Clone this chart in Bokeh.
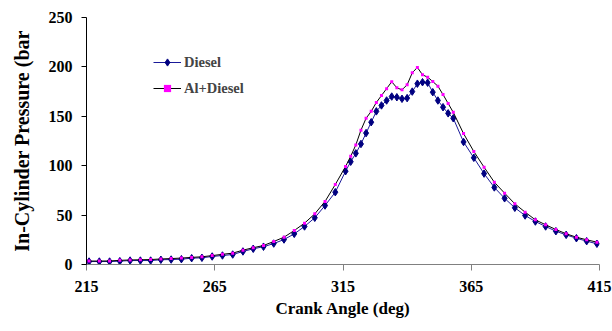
from bokeh.plotting import figure
from bokeh.models import Range1d, FixedTicker
from bokeh.embed import file_html
from bokeh.resources import INLINE

# Crank angle (deg)
angle = [216, 220, 224, 228, 232, 236, 240, 244, 248, 252, 256, 260, 264, 268, 272,
         276, 280, 284, 288, 292, 296, 300, 304, 308, 312, 316,
         318, 320, 322, 324, 326, 328, 330, 332, 334, 336, 338, 340, 342, 344, 346,
         348, 350, 352, 354, 356, 358,
         362, 366, 370, 374, 378, 382, 386, 390, 394, 398, 402, 406, 410, 414]

# In-cylinder pressure (bar)
diesel = [3.0, 3.0, 3.0, 3.4, 4.0, 4.0, 4.0, 4.8, 5.0, 5.4, 6.4, 6.8, 8.1, 9.1, 10.1,
          13.2, 15.9, 18.0, 21.2, 25.3, 31.0, 38.5, 47.3, 59.7, 73.2, 94.4,
          104.0, 112.5, 122.0, 133.0, 144.0, 155.0, 161.0, 166.0, 170.0, 169.3, 167.7, 168.4,
          175.0, 183.0, 184.5, 184.0, 174.4, 166.0, 159.2, 153.0, 148.0,
          124.0, 108.0, 92.0, 78.0, 67.0, 57.4, 49.6, 43.5, 38.5, 33.7, 30.0, 26.6, 23.6, 21.0]

al_diesel = [3.5, 3.5, 3.6, 4.2, 4.6, 4.8, 5.0, 5.6, 6.0, 6.5, 7.2, 7.8, 9.0, 10.3, 11.5,
             14.5, 17.0, 19.2, 23.3, 27.6, 34.4, 41.8, 51.3, 63.8, 81.0, 99.2,
             109.5, 121.0, 136.0, 148.0, 155.0, 164.0, 171.0, 178.0, 185.0, 178.8, 176.8, 181.9,
             194.0, 199.5, 192.0, 189.6, 185.2, 180.5, 172.0, 163.0, 154.0,
             132.5, 114.4, 98.5, 83.3, 72.2, 61.4, 53.0, 45.2, 40.2, 35.4, 31.1, 27.6, 25.0, 22.6]

x_ticks = [215, 265, 315, 365, 415]
y_ticks = [0, 50, 100, 150, 200, 250]

FONT = "Liberation Serif"

p = figure(width=612, height=331, output_backend="svg", toolbar_location=None,
           x_range=Range1d(215, 415), y_range=Range1d(0, 250),
           min_border_left=86, min_border_right=13, min_border_top=17, min_border_bottom=67)
p.outline_line_color = None
p.xgrid.visible = False
p.ygrid.visible = False

p.line(angle, diesel, line_color="#1a1a99", line_width=1, legend_label="Diesel")
p.scatter(angle, diesel, marker="diamond", size=7.5, fill_color="#000080",
          line_color="#000080", legend_label="Diesel")
p.line(angle, al_diesel, line_color="#000000", line_width=1, legend_label="Al+Diesel")
p.scatter(angle, al_diesel, marker="square", size=3, fill_color="#FF00FF",
          line_color=None, legend_label="Al+Diesel")

# axes
p.xaxis.ticker = FixedTicker(ticks=x_ticks)
p.yaxis.ticker = FixedTicker(ticks=y_ticks)
p.xaxis.minor_tick_line_color = None
p.yaxis.minor_tick_line_color = None
p.xaxis.axis_line_color = "#808080"
p.xaxis.major_tick_line_color = "#808080"
p.yaxis.axis_line_color = "#000000"
p.yaxis.major_tick_line_color = "#000000"
p.xaxis.major_tick_in = 0
p.xaxis.major_tick_out = 6
p.yaxis.major_tick_in = 0
p.yaxis.major_tick_out = 5
for ax in (p.xaxis, p.yaxis):
    ax.major_label_text_font = FONT
    ax.major_label_text_font_style = "bold"
    ax.major_label_text_font_size = "16px"
    ax.major_label_text_color = "#000000"
    ax.axis_label_text_font = FONT
    ax.axis_label_text_font_style = "bold"
    ax.axis_label_text_color = "#000000"
p.xaxis.major_label_standoff = 10
p.yaxis.major_label_standoff = 9
p.xaxis.axis_label = "Crank Angle (deg)"
p.xaxis.axis_label_text_font_size = "17px"
p.xaxis.axis_label_standoff = 4
p.yaxis.axis_label = "In-Cylinder Pressure (bar"
p.yaxis.axis_label_text_font_size = "20px"
p.yaxis.axis_label_standoff = 13

# legend
lg = p.legend[0]
lg.location = (67, 167)
lg.border_line_color = None
lg.background_fill_alpha = 0
lg.padding = 0
lg.margin = 0
lg.spacing = 8
lg.glyph_width = 28
lg.glyph_height = 18
lg.label_height = 18
lg.label_standoff = 3
lg.label_text_font = FONT
lg.label_text_font_style = "bold"
lg.label_text_font_size = "14.5px"

open("out.html", "w").write(file_html(p, INLINE))
